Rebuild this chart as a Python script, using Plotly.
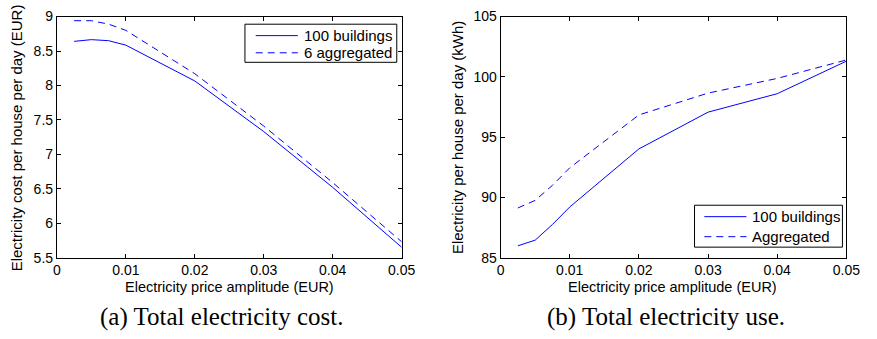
import plotly.graph_objects as go

amplitude = [0.0025, 0.005, 0.0075, 0.01, 0.02, 0.03, 0.04, 0.05]
cost_100 = [8.64, 8.665, 8.65, 8.585, 8.065, 7.33, 6.52, 5.65]
cost_agg = [8.94, 8.94, 8.89, 8.80, 8.17, 7.41, 6.59, 5.73]
use_100 = [85.98, 86.45, 87.75, 89.2, 94.02, 97.07, 98.6, 101.3]
use_agg = [89.12, 89.75, 91.0, 92.45, 96.84, 98.65, 99.87, 101.4]

legend_a = ["100 buildings", "6 aggregated"]
legend_b = ["100 buildings", "Aggregated"]

BLUE = "#0000ff"
FONT = "Liberation Sans, Arial, sans-serif"
SERIF = "Liberation Serif, DejaVu Serif, serif"
DASH = "7px,5px"

fig = go.Figure()
fig.add_trace(go.Scatter(x=amplitude, y=cost_100, mode="lines", name=legend_a[0],
                         line=dict(color=BLUE, width=1), xaxis="x", yaxis="y"))
fig.add_trace(go.Scatter(x=amplitude, y=cost_agg, mode="lines", name=legend_a[1],
                         line=dict(color=BLUE, width=1, dash=DASH), xaxis="x", yaxis="y"))
fig.add_trace(go.Scatter(x=amplitude, y=use_100, mode="lines", name=legend_b[0],
                         line=dict(color=BLUE, width=1), xaxis="x2", yaxis="y2"))
fig.add_trace(go.Scatter(x=amplitude, y=use_agg, mode="lines", name=legend_b[1],
                         line=dict(color=BLUE, width=1, dash=DASH), xaxis="x2", yaxis="y2"))

W, H = 877, 339
ydom = [1 - 262 / H, 1 - 9 / H]
axis_common = dict(showline=True, linecolor="black", linewidth=1, mirror="ticks",
                   ticks="inside", ticklen=4, tickcolor="black", showgrid=False, zeroline=False,
                   tickfont=dict(family=FONT, size=14, color="black"))

fig.update_layout(
    width=W, height=H, margin=dict(l=0, r=0, t=0, b=0),
    paper_bgcolor="white", plot_bgcolor="white",
    font=dict(family=FONT, size=14, color="black"),
    xaxis=dict(domain=[54 / W, 406 / W], range=[0, 0.05], dtick=0.01, anchor="y", **axis_common),
    yaxis=dict(domain=ydom, range=[5.5, 9], dtick=0.5, anchor="x", **axis_common),
    xaxis2=dict(domain=[507 / W, 860 / W], range=[0, 0.05], dtick=0.01, anchor="y2", **axis_common),
    yaxis2=dict(domain=ydom, range=[85, 105], dtick=5, anchor="x2", **axis_common),
    showlegend=False,
)


def px(x):
    return x / W


def py(y):
    return 1 - y / H


# hand-drawn legend boxes (MATLAB style)
def add_legend(box, line_x, text_x, rows, names):
    x0, y0, x1, y1 = box
    fig.add_shape(type="rect", xref="paper", yref="paper", x0=px(x0), x1=px(x1), y0=py(y1), y1=py(y0),
                  line=dict(color="black", width=1), fillcolor="white", layer="above")
    for i, (row, name) in enumerate(zip(rows, names)):
        fig.add_shape(type="line", xref="paper", yref="paper", x0=px(line_x[0]), x1=px(line_x[1]),
                      y0=py(row), y1=py(row), layer="above",
                      line=dict(color=BLUE, width=1, dash=None if i == 0 else DASH))
        fig.add_annotation(text=name, xref="paper", yref="paper", x=px(text_x), y=py(row),
                           xanchor="left", yanchor="middle", showarrow=False,
                           font=dict(family=FONT, size=15, color="black"))


add_legend((246, 17, 401, 57), (257, 300), 304, (29, 47), legend_a)
add_legend((705, 207, 856, 251), (715, 758), 762, (219, 240), legend_b)

annots = [
    dict(text="Electricity price amplitude (EUR)", x=230 / W, y=1 - 293 / H, font=dict(family=FONT, size=14.5)),
    dict(text="Electricity price amplitude (EUR)", x=683 / W, y=1 - 293 / H, font=dict(family=FONT, size=14.5)),
    dict(text="Electricity cost per house per day (EUR)", x=13 / W, y=1 - 136 / H, textangle=-90,
         font=dict(family=FONT, size=15)),
    dict(text="Electricity per house per day (kWh)", x=463 / W, y=1 - 136 / H, textangle=-90,
         font=dict(family=FONT, size=15)),
    dict(text="(a) Total electricity cost.", x=223 / W, y=1 - 324 / H, font=dict(family=SERIF, size=25)),
    dict(text="(b) Total electricity use.", x=676 / W, y=1 - 324 / H, font=dict(family=SERIF, size=25)),
]
for a in annots:
    a.update(xref="paper", yref="paper", showarrow=False, xanchor="center", yanchor="middle")
    a["font"]["color"] = "black"
    fig.add_annotation(**a)

fig.write_html("out.html")
